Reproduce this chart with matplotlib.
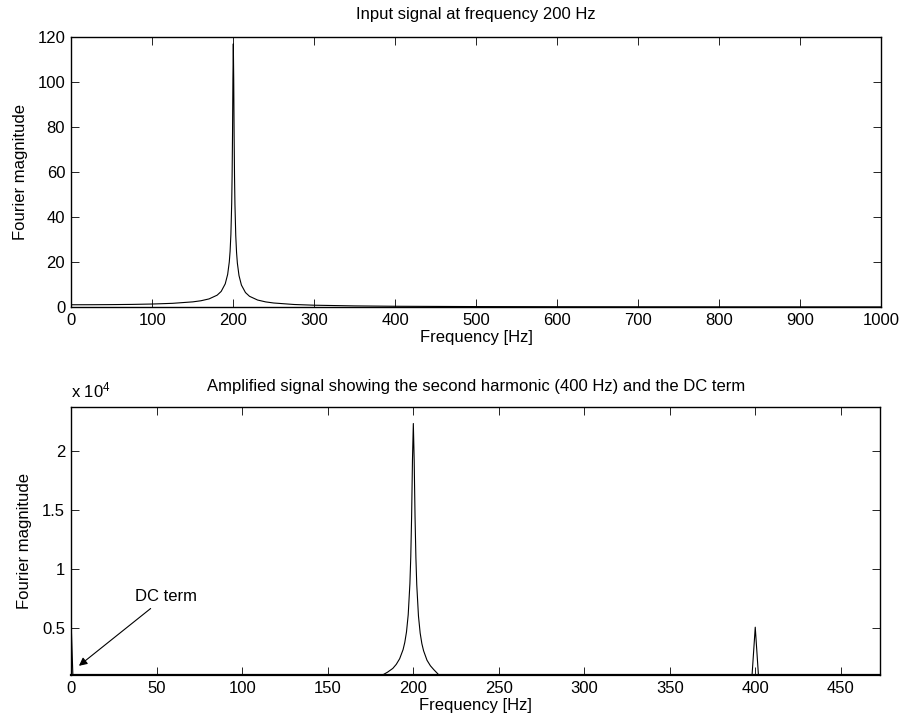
import matplotlib
matplotlib.use("Agg")
import matplotlib.pyplot as plt
from matplotlib.ticker import FuncFormatter

plt.rcParams['font.family'] = ['Liberation Sans', 'DejaVu Sans']
plt.rcParams['mathtext.fontset'] = 'custom'
plt.rcParams['mathtext.rm'] = 'Liberation Sans'
plt.rcParams['mathtext.default'] = 'regular'

# Spectrum of the input signal (Hz, magnitude)
freq_in = [0, 25, 50, 75, 100, 125, 150, 160, 170, 180, 185, 190, 193, 195, 196,
           197, 198, 198.5, 199, 199.5, 200, 200.5, 201, 201.5, 202, 203, 204, 205,
           207, 210, 215, 220, 230, 240, 250, 275, 300, 350, 400, 500, 600, 700,
           800, 900, 1000]
mag_in = [1.00, 1.02, 1.07, 1.16, 1.33, 1.64, 2.29, 2.78, 3.60, 5.26, 6.93, 10.3,
          14.5, 20.0, 24.7, 32.3, 46.2, 58.2, 76.3, 101.4, 117, 100.7, 75.7, 57.6,
          45.7, 31.8, 24.2, 19.5, 14.0, 9.75, 6.43, 4.76, 3.10, 2.27, 1.78, 1.12,
          0.80, 0.49, 0.33, 0.19, 0.125, 0.089, 0.067, 0.052, 0.042]

# Spectrum of the amplified signal (Hz, magnitude)
freq_amp = [0, 1, 2, 50, 100, 150, 175, 180, 182, 185, 188, 190, 192, 194, 195,
            196, 197, 198, 198.5, 199, 199.5, 200, 200.5, 201, 201.5, 202, 203, 204,
            205, 206, 208, 210, 212, 215, 218, 225, 250, 300, 350, 397, 398, 400,
            402, 403, 450, 473]
mag_amp = [4700, 350, 300, 300, 350, 450, 700, 880, 1000, 1250, 1560, 1900, 2380,
           3150, 3760, 4650, 6100, 8750, 11000, 14450, 19250, 22300, 19150, 14400,
           10950, 8650, 6000, 4550, 3650, 3050, 2250, 1780, 1450, 1000, 820, 600,
           400, 300, 250, 250, 700, 5050, 700, 250, 200, 200]

xticks_in = list(range(0, 1001, 100))
yticks_in = list(range(0, 121, 20))
xticks_amp = list(range(0, 451, 50))
yticks_amp = [5000, 10000, 15000, 20000]

FS = 12

fig = plt.figure(figsize=(9.04, 7.27), dpi=100)
ax1 = fig.add_axes([0.0790, 0.5777, 0.8955, 0.3713])
ax2 = fig.add_axes([0.0790, 0.0715, 0.8945, 0.3687])


def style(ax):
    ax.tick_params(direction='in', top=True, right=True, length=6, width=0.6,
                   labelsize=FS, pad=4.5)
    for s in ax.spines.values():
        s.set_linewidth(1.0)


ax1.plot(freq_in, mag_in, color='black', lw=0.8)
ax1.set_xlim(0, 1000)
ax1.set_ylim(0, 120)
ax1.set_xticks(xticks_in)
ax1.set_yticks(yticks_in)
style(ax1)
ax1.set_xlabel('Frequency [Hz]', fontsize=FS, labelpad=1)
ax1.set_ylabel('Fourier magnitude', fontsize=FS, labelpad=7)
ax1.set_title('Input signal at frequency 200 Hz', fontsize=FS, pad=13)

ax2.plot(freq_amp, mag_amp, color='black', lw=0.8)
ax2.set_xlim(0, 473)
ax2.set_ylim(1000, 23700)
ax2.set_xticks(xticks_amp)
ax2.set_yticks(yticks_amp)
ax2.yaxis.set_major_formatter(FuncFormatter(lambda v, _: f'{v / 1e4:g}'))
style(ax2)
ax2.spines['bottom'].set_linewidth(1.6)
ax2.set_xlabel('Frequency [Hz]', fontsize=FS, labelpad=1)
ax2.set_ylabel('Fourier magnitude', fontsize=FS, labelpad=7)
ax2.set_title('Amplified signal showing the second harmonic (400 Hz) and the DC term',
              fontsize=FS, pad=11.5)
ax2.text(0, 1.037, r'x 10$^{4}$', transform=ax2.transAxes, fontsize=FS,
         ha='left', va='baseline')

ax2.annotate('DC term', xy=(4.4, 1780), xytext=(37, 7650),
             fontsize=FS, ha='left', va='center',
             arrowprops=dict(arrowstyle='-|>', color='black', lw=0.8,
                             mutation_scale=12, shrinkA=2, shrinkB=0))

fig.savefig('out.png', dpi=100)
